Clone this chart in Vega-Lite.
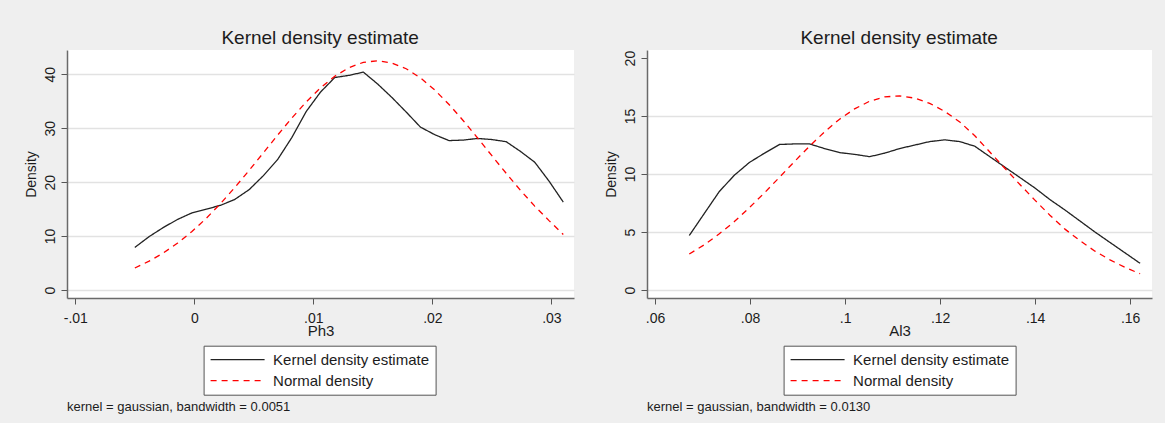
{
  "$schema": "https://vega.github.io/schema/vega-lite/v6.json",
  "background": "#efefef",
  "padding": {"left": 24, "top": 29, "right": 13, "bottom": 8},
  "config": {
    "font": "Liberation Sans",
    "view": {"stroke": null, "fill": "white"},
    "title": {"font": "Liberation Sans", "fontWeight": "normal", "color": "#1c1c1c"},
    "axis": {
      "labelFont": "Liberation Sans",
      "labelFontSize": 14,
      "labelColor": "#1c1c1c",
      "titleFont": "Liberation Sans",
      "titleFontWeight": "normal",
      "titleColor": "#1c1c1c",
      "tickSize": 6,
      "tickColor": "#555555",
      "domainColor": "#6a6a6a",
      "domainWidth": 1.5,
      "gridColor": "#e2e2e2",
      "gridWidth": 1.5,
      "labelOverlap": false,
      "labelFlush": false
    },
    "axisX": {
      "grid": false,
      "labelPadding": 18,
      "labelBaseline": "alphabetic",
      "titleY": 37,
      "titleBaseline": "alphabetic",
      "titleFontSize": 15
    },
    "axisY": {
      "grid": true,
      "labelAngle": 270,
      "labelAlign": "center",
      "labelBaseline": "alphabetic",
      "labelPadding": 7,
      "titleAngle": 270,
      "titleX": -31.7,
      "titleBaseline": "alphabetic",
      "titleFontSize": 14
    },
    "legend": {
      "orient": "none",
      "legendX": 136.6,
      "legendY": 295.7,
      "title": null,
      "direction": "vertical",
      "symbolType": "stroke",
      "symbolSize": 2916,
      "symbolStrokeWidth": 1.3,
      "clipHeight": 16,
      "labelFont": "Liberation Sans",
      "labelFontSize": 15,
      "labelColor": "#1c1c1c",
      "labelOffset": 7.5,
      "rowPadding": 5,
      "padding": 6,
      "strokeColor": "#555555",
      "fillColor": "white",
      "cornerRadius": 0
    }
  },
  "datasets": {
    "ph3": [
      {"x": -0.0050, "density": 7.9, "curve": "Kernel density estimate"},
      {"x": -0.0038, "density": 9.9, "curve": "Kernel density estimate"},
      {"x": -0.0026, "density": 11.6, "curve": "Kernel density estimate"},
      {"x": -0.0014, "density": 13.1, "curve": "Kernel density estimate"},
      {"x": -0.0002, "density": 14.3, "curve": "Kernel density estimate"},
      {"x": 0.0010, "density": 15.0, "curve": "Kernel density estimate"},
      {"x": 0.0022, "density": 15.7, "curve": "Kernel density estimate"},
      {"x": 0.0034, "density": 16.8, "curve": "Kernel density estimate"},
      {"x": 0.0046, "density": 18.6, "curve": "Kernel density estimate"},
      {"x": 0.0058, "density": 21.2, "curve": "Kernel density estimate"},
      {"x": 0.0070, "density": 24.2, "curve": "Kernel density estimate"},
      {"x": 0.0082, "density": 28.3, "curve": "Kernel density estimate"},
      {"x": 0.0094, "density": 33.1, "curve": "Kernel density estimate"},
      {"x": 0.0106, "density": 36.7, "curve": "Kernel density estimate"},
      {"x": 0.0118, "density": 39.4, "curve": "Kernel density estimate"},
      {"x": 0.0130, "density": 39.8, "curve": "Kernel density estimate"},
      {"x": 0.0142, "density": 40.4, "curve": "Kernel density estimate"},
      {"x": 0.0154, "density": 38.2, "curve": "Kernel density estimate"},
      {"x": 0.0166, "density": 35.7, "curve": "Kernel density estimate"},
      {"x": 0.0178, "density": 33.0, "curve": "Kernel density estimate"},
      {"x": 0.0190, "density": 30.2, "curve": "Kernel density estimate"},
      {"x": 0.0202, "density": 28.8, "curve": "Kernel density estimate"},
      {"x": 0.0214, "density": 27.7, "curve": "Kernel density estimate"},
      {"x": 0.0226, "density": 27.8, "curve": "Kernel density estimate"},
      {"x": 0.0238, "density": 28.1, "curve": "Kernel density estimate"},
      {"x": 0.0250, "density": 27.9, "curve": "Kernel density estimate"},
      {"x": 0.0262, "density": 27.5, "curve": "Kernel density estimate"},
      {"x": 0.0274, "density": 25.7, "curve": "Kernel density estimate"},
      {"x": 0.0286, "density": 23.7, "curve": "Kernel density estimate"},
      {"x": 0.0298, "density": 20.2, "curve": "Kernel density estimate"},
      {"x": 0.0310, "density": 16.3, "curve": "Kernel density estimate"},
      {"x": -0.0050, "density": 4.08, "curve": "Normal density"},
      {"x": -0.0038, "density": 5.35, "curve": "Normal density"},
      {"x": -0.0026, "density": 6.88, "curve": "Normal density"},
      {"x": -0.0014, "density": 8.71, "curve": "Normal density"},
      {"x": -0.0002, "density": 10.85, "curve": "Normal density"},
      {"x": 0.0010, "density": 13.29, "curve": "Normal density"},
      {"x": 0.0022, "density": 16.03, "curve": "Normal density"},
      {"x": 0.0034, "density": 19.01, "curve": "Normal density"},
      {"x": 0.0046, "density": 22.17, "curve": "Normal density"},
      {"x": 0.0058, "density": 25.44, "curve": "Normal density"},
      {"x": 0.0070, "density": 28.73, "curve": "Normal density"},
      {"x": 0.0082, "density": 31.91, "curve": "Normal density"},
      {"x": 0.0094, "density": 34.87, "curve": "Normal density"},
      {"x": 0.0106, "density": 37.49, "curve": "Normal density"},
      {"x": 0.0118, "density": 39.64, "curve": "Normal density"},
      {"x": 0.0130, "density": 41.24, "curve": "Normal density"},
      {"x": 0.0142, "density": 42.21, "curve": "Normal density"},
      {"x": 0.0154, "density": 42.50, "curve": "Normal density"},
      {"x": 0.0166, "density": 42.09, "curve": "Normal density"},
      {"x": 0.0178, "density": 41.02, "curve": "Normal density"},
      {"x": 0.0190, "density": 39.32, "curve": "Normal density"},
      {"x": 0.0202, "density": 37.08, "curve": "Normal density"},
      {"x": 0.0214, "density": 34.40, "curve": "Normal density"},
      {"x": 0.0226, "density": 31.39, "curve": "Normal density"},
      {"x": 0.0238, "density": 28.19, "curve": "Normal density"},
      {"x": 0.0250, "density": 24.90, "curve": "Normal density"},
      {"x": 0.0262, "density": 21.64, "curve": "Normal density"},
      {"x": 0.0274, "density": 18.49, "curve": "Normal density"},
      {"x": 0.0286, "density": 15.56, "curve": "Normal density"},
      {"x": 0.0298, "density": 12.87, "curve": "Normal density"},
      {"x": 0.0310, "density": 10.30, "curve": "Normal density"}
    ],
    "al3": [
      {"x": 0.06720, "density": 4.7, "curve": "Kernel density estimate"},
      {"x": 0.07036, "density": 6.6, "curve": "Kernel density estimate"},
      {"x": 0.07353, "density": 8.5, "curve": "Kernel density estimate"},
      {"x": 0.07669, "density": 9.9, "curve": "Kernel density estimate"},
      {"x": 0.07985, "density": 11.0, "curve": "Kernel density estimate"},
      {"x": 0.08302, "density": 11.8, "curve": "Kernel density estimate"},
      {"x": 0.08618, "density": 12.55, "curve": "Kernel density estimate"},
      {"x": 0.08934, "density": 12.6, "curve": "Kernel density estimate"},
      {"x": 0.09250, "density": 12.6, "curve": "Kernel density estimate"},
      {"x": 0.09567, "density": 12.2, "curve": "Kernel density estimate"},
      {"x": 0.09883, "density": 11.85, "curve": "Kernel density estimate"},
      {"x": 0.10199, "density": 11.7, "curve": "Kernel density estimate"},
      {"x": 0.10516, "density": 11.5, "curve": "Kernel density estimate"},
      {"x": 0.10832, "density": 11.8, "curve": "Kernel density estimate"},
      {"x": 0.11148, "density": 12.2, "curve": "Kernel density estimate"},
      {"x": 0.11465, "density": 12.5, "curve": "Kernel density estimate"},
      {"x": 0.11781, "density": 12.8, "curve": "Kernel density estimate"},
      {"x": 0.12097, "density": 12.95, "curve": "Kernel density estimate"},
      {"x": 0.12413, "density": 12.8, "curve": "Kernel density estimate"},
      {"x": 0.12730, "density": 12.4, "curve": "Kernel density estimate"},
      {"x": 0.13046, "density": 11.5, "curve": "Kernel density estimate"},
      {"x": 0.13362, "density": 10.6, "curve": "Kernel density estimate"},
      {"x": 0.13679, "density": 9.7, "curve": "Kernel density estimate"},
      {"x": 0.13995, "density": 8.8, "curve": "Kernel density estimate"},
      {"x": 0.14311, "density": 7.8, "curve": "Kernel density estimate"},
      {"x": 0.14628, "density": 6.9, "curve": "Kernel density estimate"},
      {"x": 0.14944, "density": 5.95, "curve": "Kernel density estimate"},
      {"x": 0.15260, "density": 5.0, "curve": "Kernel density estimate"},
      {"x": 0.15576, "density": 4.1, "curve": "Kernel density estimate"},
      {"x": 0.15893, "density": 3.2, "curve": "Kernel density estimate"},
      {"x": 0.16210, "density": 2.3, "curve": "Kernel density estimate"},
      {"x": 0.06720, "density": 3.1, "curve": "Normal density"},
      {"x": 0.07036, "density": 3.9, "curve": "Normal density"},
      {"x": 0.07353, "density": 4.85, "curve": "Normal density"},
      {"x": 0.07669, "density": 5.9, "curve": "Normal density"},
      {"x": 0.07985, "density": 7.1, "curve": "Normal density"},
      {"x": 0.08302, "density": 8.38, "curve": "Normal density"},
      {"x": 0.08618, "density": 9.72, "curve": "Normal density"},
      {"x": 0.08934, "density": 11.08, "curve": "Normal density"},
      {"x": 0.09250, "density": 12.4, "curve": "Normal density"},
      {"x": 0.09567, "density": 13.64, "curve": "Normal density"},
      {"x": 0.09883, "density": 14.73, "curve": "Normal density"},
      {"x": 0.10199, "density": 15.62, "curve": "Normal density"},
      {"x": 0.10516, "density": 16.28, "curve": "Normal density"},
      {"x": 0.10832, "density": 16.66, "curve": "Normal density"},
      {"x": 0.11148, "density": 16.74, "curve": "Normal density"},
      {"x": 0.11465, "density": 16.55, "curve": "Normal density"},
      {"x": 0.11781, "density": 16.1, "curve": "Normal density"},
      {"x": 0.12097, "density": 15.4, "curve": "Normal density"},
      {"x": 0.12413, "density": 14.5, "curve": "Normal density"},
      {"x": 0.12730, "density": 13.3, "curve": "Normal density"},
      {"x": 0.13046, "density": 11.9, "curve": "Normal density"},
      {"x": 0.13362, "density": 10.5, "curve": "Normal density"},
      {"x": 0.13679, "density": 9.1, "curve": "Normal density"},
      {"x": 0.13995, "density": 7.75, "curve": "Normal density"},
      {"x": 0.14311, "density": 6.45, "curve": "Normal density"},
      {"x": 0.14628, "density": 5.25, "curve": "Normal density"},
      {"x": 0.14944, "density": 4.25, "curve": "Normal density"},
      {"x": 0.15260, "density": 3.35, "curve": "Normal density"},
      {"x": 0.15576, "density": 2.6, "curve": "Normal density"},
      {"x": 0.15893, "density": 1.95, "curve": "Normal density"},
      {"x": 0.16210, "density": 1.4, "curve": "Normal density"}
    ]
  },
  "hconcat": [
    {
      "title": {"text": "Kernel density estimate", "fontSize": 19, "baseline": "alphabetic", "anchor": "middle", "offset": -13, "dx": 21},
      "vconcat": [
        {
          "data": {"name": "ph3"},
          "width": 507,
          "height": 248,
          "title": {"text": "kernel = gaussian, bandwidth = 0.0051", "orient": "bottom", "anchor": "start", "frame": "group", "fontSize": 13, "offset": 6},
          "mark": {"type": "line", "strokeWidth": 1.3, "clip": true},
          "encoding": {
            "x": {
              "field": "x", "type": "quantitative",
              "scale": {"domain": [-0.0107, 0.0319], "nice": false, "zero": false},
              "axis": {
                "title": "Ph3",
                "values": [-0.01, 0, 0.01, 0.02, 0.03],
                "labelExpr": "datum.value == 0 ? '0' : (datum.value < 0 ? '-' : '') + replace(format(abs(datum.value), '.2~f'), '0.', '.')"
              }
            },
            "y": {
              "field": "density", "type": "quantitative",
              "scale": {"domain": [-1.48, 44.5], "nice": false, "zero": false},
              "axis": {"title": "Density", "values": [0, 10, 20, 30, 40]}
            },
            "color": {
              "field": "curve", "type": "nominal",
              "scale": {"domain": ["Kernel density estimate", "Normal density"], "range": ["#222222", "#ff0000"]},
              "legend": {"orient": "none", "legendX": 136.6, "legendY": 295.7}
            },
            "strokeDash": {
              "field": "curve", "type": "nominal",
              "scale": {"domain": ["Kernel density estimate", "Normal density"], "range": [[1, 0], [6, 5]]},
              "legend": {"orient": "none", "legendX": 136.6, "legendY": 295.7}
            }
          }
        }
      ],
      "resolve": {"scale": {"color": "independent", "strokeDash": "independent"}, "legend": {"color": "independent", "strokeDash": "independent"}}
    },
    {
      "title": {"text": "Kernel density estimate", "fontSize": 19, "baseline": "alphabetic", "anchor": "middle", "offset": -13, "dx": 21},
      "vconcat": [
        {
          "data": {"name": "al3"},
          "width": 505,
          "height": 248,
          "title": {"text": "kernel = gaussian, bandwidth = 0.0130", "orient": "bottom", "anchor": "start", "frame": "group", "fontSize": 13, "offset": 6},
          "mark": {"type": "line", "strokeWidth": 1.3, "clip": true},
          "encoding": {
            "x": {
              "field": "x", "type": "quantitative",
              "scale": {"domain": [0.0583, 0.1646], "nice": false, "zero": false},
              "axis": {
                "title": "Al3",
                "values": [0.06, 0.08, 0.1, 0.12, 0.14, 0.16],
                "labelExpr": "replace(format(datum.value, '.2~f'), '0.', '.')"
              }
            },
            "y": {
              "field": "density", "type": "quantitative",
              "scale": {"domain": [-0.69, 20.7], "nice": false, "zero": false},
              "axis": {
                "title": "Density",
                "values": [0, 5, 10, 15, 20],
                "gridOpacity": {"condition": {"test": "datum.value == 20", "value": 0}, "value": 1}
              }
            },
            "color": {
              "field": "curve", "type": "nominal",
              "scale": {"domain": ["Kernel density estimate", "Normal density"], "range": ["#222222", "#ff0000"]},
              "legend": {"orient": "none", "legendX": 136.6, "legendY": 295.7}
            },
            "strokeDash": {
              "field": "curve", "type": "nominal",
              "scale": {"domain": ["Kernel density estimate", "Normal density"], "range": [[1, 0], [6, 5]]},
              "legend": {"orient": "none", "legendX": 136.6, "legendY": 295.7}
            }
          }
        }
      ],
      "resolve": {"scale": {"color": "independent", "strokeDash": "independent"}, "legend": {"color": "independent", "strokeDash": "independent"}}
    }
  ],
  "spacing": 30,
  "resolve": {"scale": {"color": "independent", "strokeDash": "independent"}, "legend": {"color": "independent", "strokeDash": "independent"}}
}
